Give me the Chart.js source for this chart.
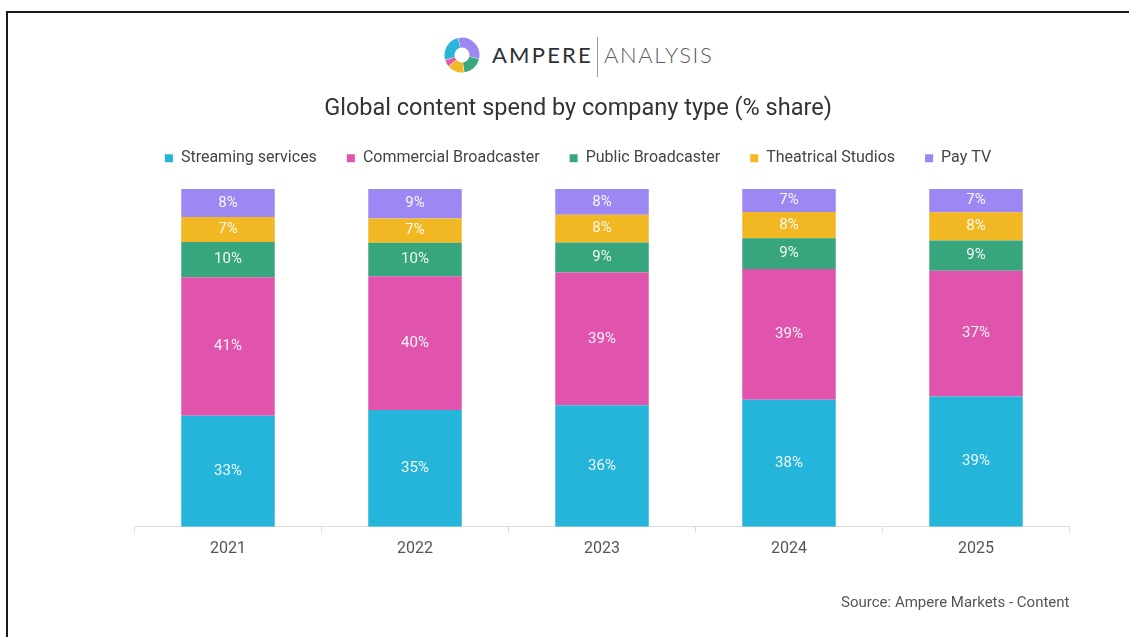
<!DOCTYPE html>
<html>
<head>
<meta charset="utf-8">
<script src="https://cdn.jsdelivr.net/npm/chart.js@4.4.1/dist/chart.umd.min.js"></script>
<style>
  html, body { margin: 0; padding: 0; background: #fff; }
  #wrap { position: relative; width: 1129px; height: 637px; overflow: hidden; background: #fff; }
  #frame { position: absolute; left: 6px; top: 11px; right: -10px; bottom: -10px;
           border-top: 2px solid #1a1a1a; border-left: 2px solid #1a1a1a; }
  #c { position: absolute; left: 0; top: 0; }
  .logo-t { position: absolute; top: 40px; font-family: Lato, "Open Sans", sans-serif; font-size: 22px; line-height: 30px; white-space: nowrap; }
  #amp { left: 492px; color: #2f2f33; letter-spacing: 2.2px; }
  #ana { left: 604px; color: #5a5a5e; letter-spacing: 1.6px; font-weight: 300; }
  #bar { position: absolute; left: 597px; top: 37px; width: 1px; height: 40px; background: #9a9a9a; }
  #logo { position: absolute; left: 444px; top: 37px; }
</style>
</head>
<body>
<div id="wrap">
  <div id="frame"></div>
  <svg id="logo" width="36" height="36" viewBox="0 0 36 36"></svg>
  <div class="logo-t" id="amp">AMPERE</div>
  <div id="bar"></div>
  <div class="logo-t" id="ana">ANALYSIS</div>
  <canvas id="c" width="1129" height="637"></canvas>
</div>
<script>
// ---- data ----
const categories = ["2021", "2022", "2023", "2024", "2025"];
const seriesNames = ["Streaming services", "Commercial Broadcaster", "Public Broadcaster", "Theatrical Studios", "Pay TV"];
const streaming   = [32.9, 34.6, 36.0, 37.6, 38.6];
const commercial  = [41.0, 39.6, 39.3, 38.7, 37.2];
const publicBc    = [10.4,  9.9,  8.9,  9.1,  9.0];
const theatrical  = [ 7.4,  7.2,  8.2,  7.8,  8.3];
const payTv       = [ 8.3,  8.7,  7.6,  6.8,  6.9];
const titleText = "Global content spend by company type (% share)";
const sourceText = "Source: Ampere Markets - Content";

const colors = ["#25b5da", "#e154ae", "#37a67c", "#f2b823", "#9d87f3"];

// ---- logo ring ----
(function () {
  const svg = document.getElementById('logo');
  const cx = 18, cy = 18, r = 12.5;
  const segs = [
    [-12, 102, "#9d87f3"], [104, 172, "#3aa87c"], [174, 228, "#f3b925"],
    [230, 252, "#e85aa5"], [254, 346, "#2bb5d8"]
  ];
  function pt(a) { const t = (a - 90) * Math.PI / 180; return [cx + r * Math.cos(t), cy + r * Math.sin(t)]; }
  segs.forEach(([a0, a1, col]) => {
    const p0 = pt(a0), p1 = pt(a1);
    const large = (a1 - a0) > 180 ? 1 : 0;
    const path = document.createElementNS("http://www.w3.org/2000/svg", "path");
    path.setAttribute("d", `M${p0[0]},${p0[1]} A${r},${r} 0 ${large} 1 ${p1[0]},${p1[1]}`);
    path.setAttribute("stroke", col);
    path.setAttribute("stroke-width", "10");
    path.setAttribute("fill", "none");
    svg.appendChild(path);
  });
})();

// ---- value labels plugin ----
const barLabels = {
  id: 'barLabels',
  afterDatasetsDraw(chart) {
    const ctx = chart.ctx;
    ctx.save();
    ctx.font = "15px Roboto";
    ctx.fillStyle = "rgba(255,255,255,0.93)";
    ctx.textAlign = "center";
    ctx.textBaseline = "middle";
    chart.data.datasets.forEach((ds, i) => {
      const meta = chart.getDatasetMeta(i);
      meta.data.forEach((bar, j) => {
        const p = bar.getProps(['x', 'y', 'base'], true);
        ctx.fillText(Math.round(ds.data[j]) + "%", p.x, (p.y + p.base) / 2);
      });
    });
    ctx.restore();
  }
};

const seriesData = [streaming, commercial, publicBc, theatrical, payTv];

new Chart(document.getElementById('c'), {
  type: 'bar',
  data: {
    labels: categories,
    datasets: seriesNames.map((n, i) => ({
      label: n,
      data: seriesData[i],
      backgroundColor: colors[i],
      borderWidth: 0,
      categoryPercentage: 1,
      barPercentage: 0.5
    }))
  },
  options: {
    responsive: false,
    animation: false,
    devicePixelRatio: 1,
    layout: { padding: { left: 86.5, right: 59.5, top: 95, bottom: 15 } },
    plugins: {
      title: { display: true, text: titleText, color: '#333', font: { family: 'Roboto', size: 23.5, weight: 'normal' }, padding: { top: 0, bottom: -3 } },
      subtitle: { display: true, text: sourceText, position: 'bottom', align: 'end', color: '#555', font: { family: 'Roboto', size: 15 }, padding: { top: 28, bottom: 10 } },
      legend: {
        labels: { boxWidth: 8, boxHeight: 8, padding: 30, color: '#444', font: { family: 'Roboto', size: 16 } }
      },
      tooltip: { enabled: false }
    },
    scales: {
      x: {
        stacked: true,
        grid: { display: true, drawOnChartArea: false, drawTicks: true, tickLength: 6, color: '#dddddd', offset: true },
        border: { display: true, color: '#dddddd' },
        ticks: { color: '#555', padding: 7, font: { family: 'Roboto', size: 16 } }
      },
      y: {
        stacked: true,
        min: 0,
        max: 103.8,
        grid: { display: false },
        border: { display: false },
        ticks: { display: false },
        afterFit(s) { s.width = 48; }
      }
    }
  },
  plugins: [barLabels]
});
</script>
</body>
</html>
